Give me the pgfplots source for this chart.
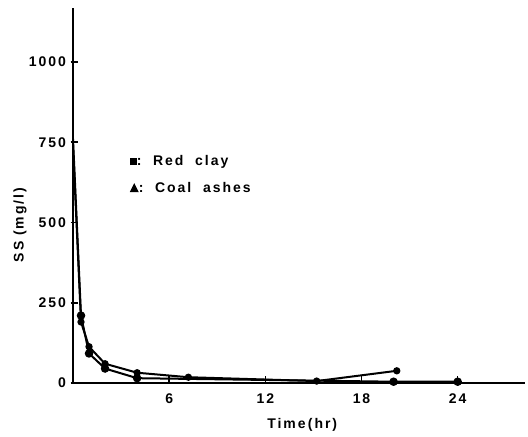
\documentclass[border=0pt]{standalone}
\usepackage{pgfplots}
\pgfplotsset{compat=1.18}
\usepackage{fontspec}
\setmainfont{Liberation Sans}[LetterSpace=14]
\begin{document}
\begin{tikzpicture}
\begin{axis}[
  scale only axis,
  width=226pt, height=187.5pt,
  xmin=0, xmax=28.2, ymin=0, ymax=1168,
  axis lines=left,
  axis line style={-, line width=0.9pt},
  xtick={6,12,18,24},
  ytick={0,250,500,750,1000},
  tick align=inside,
  major tick length=3.5pt,
  tick style={line width=0.8pt, black},
  ytick style={xshift=-1.25pt},
  /pgf/number format/assume math mode=true,
  /pgf/number format/1000 sep={},
  ticklabel style={font=\fontsize{7}{8}\selectfont\bfseries},
  xticklabel style={yshift=-2pt},
  clip=false,
]
\addplot[black, line width=1pt, mark=*, mark size=1.6pt, mark indices={2,3,4,5,6,7}] coordinates {
  (0,760) (0.5,210) (1,92) (2,45) (4,15) (20,4) (24,4)
};
\addplot[black, line width=1pt, mark=*, mark size=1.3pt, mark indices={2,3,4,5,6,7,8}] coordinates {
  (0,740) (0.5,190) (1,113) (2,60) (4,32) (7.2,18) (15.2,6) (20.2,38)
};
\node[anchor=west, font=\fontsize{7}{8}\selectfont\bfseries] at (axis cs:3.1,690) {\rule{3.5pt}{3.5pt}:\ \ Red\ \ clay};
\node[anchor=west, font=\fontsize{7}{8}\selectfont\bfseries] at (axis cs:3.1,610) {\tikz\fill (0,0)--(4.5pt,0)--(2.25pt,4.5pt)--cycle;:\ \ Coal\ \ ashes};
\node[rotate=90, font=\fontsize{7}{8}\selectfont\bfseries] at ([xshift=-26.5pt]axis cs:0,492) {SS (mg/l)};
\node[font=\fontsize{7}{8}\selectfont\bfseries] at ([yshift=-21pt]axis cs:14.3,0) {Time\,(hr)};
\coordinate (bl) at (rel axis cs:0,0);
\coordinate (tr) at (rel axis cs:1,1);
\end{axis}
\pgfresetboundingbox
\path ([xshift=-36.5pt,yshift=-27pt]bl) rectangle ([xshift=1.5pt,yshift=4pt]tr);
\end{tikzpicture}
\end{document}
